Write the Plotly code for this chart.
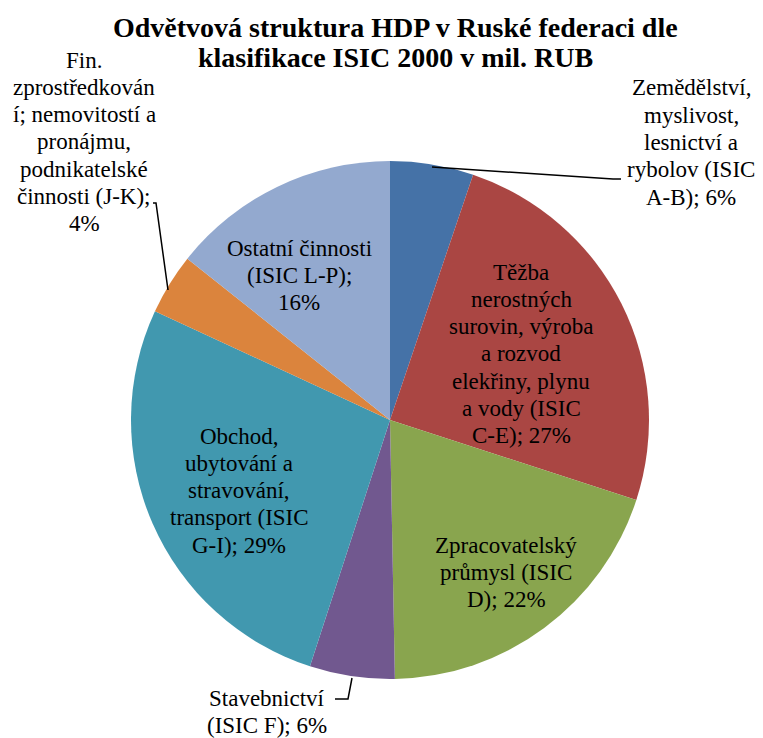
import plotly.graph_objects as go

W, H = 763, 738

categories = [
    "Zemědělství, myslivost, lesnictví a rybolov (ISIC A-B)",
    "Těžba nerostných surovin, výroba a rozvod elekřiny, plynu a vody (ISIC C-E)",
    "Zpracovatelský průmysl (ISIC D)",
    "Stavebnictví (ISIC F)",
    "Obchod, ubytování a stravování, transport (ISIC G-I)",
    "Fin. zprostředkování; nemovitostí a pronájmu, podnikatelské činnosti (J-K)",
    "Ostatní činnosti (ISIC L-P)",
]
values = [5.2, 24.8, 19.7, 5.3, 26.9, 3.8, 14.3]
shown_pct = ["6%", "27%", "22%", "6%", "29%", "4%", "16%"]
label_lines = [
    ["Zemědělství,", "myslivost,", "lesnictví a", "rybolov (ISIC", "A-B); 6%"],
    ["Těžba", "nerostných", "surovin, výroba", "a rozvod", "elekřiny, plynu", "a vody (ISIC", "C-E); 27%"],
    ["Zpracovatelský", "průmysl (ISIC", "D); 22%"],
    ["Stavebnictví", "(ISIC F); 6%"],
    ["Obchod,", "ubytování a", "stravování,", "transport (ISIC", "G-I); 29%"],
    ["Fin.", "zprostředkován", "í; nemovitostí a", "pronájmu,", "podnikatelské", "činnosti (J-K);", "4%"],
    ["Ostatní činnosti", "(ISIC L-P);", "16%"],
]
title_lines = ["Odvětvová struktura HDP v Ruské federaci dle", "klasifikace ISIC 2000 v mil. RUB"]
colors = ["#4572A7", "#AA4643", "#89A54E", "#71588F", "#4198AF", "#DB843D", "#93A9CF"]

SERIF = "Liberation Serif, Times New Roman, serif"

def px(x):
    return x / W

def py(y):
    return 1 - y / H

cx, cy, r = 390, 420, 259

fig = go.Figure(go.Pie(
    labels=categories,
    values=values,
    sort=False,
    direction="clockwise",
    rotation=0,
    textinfo="none",
    marker=dict(colors=colors, line=dict(color="white", width=0)),
    domain=dict(x=[px(cx - r), px(cx + r)], y=[py(cy + r), py(cy - r)]),
    showlegend=False,
))

# (center x, first line center y) for each label block
label_pos = [(691, 88), (521, 272), (506, 545), (267, 698), (239, 436), (84, 60), (299, 248)]
line_gap = 27.3
for lines, (x, y0) in zip(label_lines, label_pos):
    for i, line in enumerate(lines):
        fig.add_annotation(
            x=px(x), y=py(y0 + i * line_gap), xref="paper", yref="paper",
            text=line, showarrow=False,
            xanchor="center", yanchor="middle", align="center",
            font=dict(family=SERIF, size=23, color="black"),
        )

leaders = [
    [(432, 167), (613, 179), (621, 179)],
    [(168, 290), (156, 203), (153, 203)],
    [(352, 678), (348, 699), (335, 699)],
]
for pts in leaders:
    path = "M " + " L ".join(f"{px(x)},{py(y)}" for x, y in pts)
    fig.add_shape(type="path", path=path, xref="paper", yref="paper",
                  line=dict(color="black", width=1.5))

for i, line in enumerate(title_lines):
    fig.add_annotation(
        x=px(395), y=py(28 + i * 30), xref="paper", yref="paper",
        text=f"<b>{line}</b>", showarrow=False,
        xanchor="center", yanchor="middle", align="center",
        font=dict(family=SERIF, size=28, color="black"),
    )

fig.update_layout(
    width=W, height=H,
    margin=dict(l=0, r=0, t=0, b=0),
    paper_bgcolor="white", plot_bgcolor="white",
)

fig.write_html("out.html", post_script="document.body.style.margin='0';",
               config={"displayModeBar": False})
